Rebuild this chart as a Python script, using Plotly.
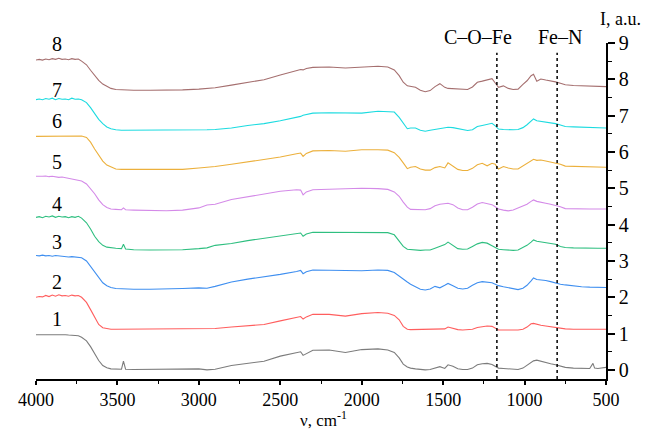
import plotly.graph_objects as go

# Wavenumber grid (cm^-1) shared by all spectra
wavenumber = [
    4000, 3980, 3960, 3940, 3920, 3900, 3880, 3860, 3840, 3820,
    3800, 3780, 3760, 3740, 3720,
    3690, 3665,
    3640, 3615, 3590, 3565, 3540, 3510, 3475, 3463, 3450, 3400,
    3300, 3200, 3100, 3000, 2950, 2900, 2800, 2700, 2600, 2500,
    2400, 2375, 2360, 2340, 2300, 2200, 2100, 2000, 1900, 1840,
    1800, 1770, 1745, 1720, 1700, 1670, 1640, 1610, 1580, 1550,
    1520, 1490, 1470, 1440, 1410, 1380, 1350, 1320, 1290, 1260,
    1230, 1200, 1180, 1160, 1130, 1100, 1070, 1040, 1010, 985,
    960, 945, 925, 900, 870, 840, 810, 780, 750, 700,
    650, 600, 580, 570, 550, 500,
]

# Offset spectra, intensity in a.u.
spec_1 = [
    0.97, 0.97, 0.98, 0.97, 0.98, 0.98, 0.99, 0.98, 0.98, 0.97,
    0.96, 0.96, 0.96, 0.94, 0.90,
    0.80, 0.64,
    0.45, 0.26, 0.12, 0.06, 0.03, 0.02, 0.02, 0.24, 0.02, 0.01,
    0.01, 0.01, 0.02, 0.03, 0.00, 0.02, 0.12, 0.17, 0.24, 0.38,
    0.48, 0.50, 0.40, 0.45, 0.54, 0.55, 0.48, 0.56, 0.58, 0.55,
    0.48, 0.33, 0.16, 0.08, 0.05, 0.03, 0.01, 0.00, 0.01, 0.05,
    0.09, 0.04, 0.14, 0.10, 0.03, 0.01, 0.01, 0.05, 0.14, 0.17,
    0.18, 0.15, 0.09, 0.05, 0.04, 0.03, 0.02, 0.01, 0.05, 0.12,
    0.20, 0.25, 0.27, 0.24, 0.19, 0.17, 0.14, 0.11, 0.07, 0.05,
    0.04, 0.04, 0.18, 0.05, 0.04, 0.07,
]
spec_2 = [
    2.00, 2.02, 2.01, 2.05, 2.02, 2.06, 2.03, 2.07, 2.04, 2.05,
    2.03, 2.06, 2.04, 2.05, 2.00,
    1.86, 1.66,
    1.44, 1.25, 1.16, 1.13, 1.12, 1.12, 1.12, 1.12, 1.12, 1.12,
    1.12, 1.12, 1.12, 1.13, 1.13, 1.14, 1.18, 1.22, 1.25, 1.35,
    1.45, 1.47, 1.40, 1.46, 1.53, 1.53, 1.48, 1.55, 1.58, 1.56,
    1.50, 1.38, 1.20, 1.12, 1.11, 1.11, 1.11, 1.12, 1.11, 1.13,
    1.12, 1.13, 1.18, 1.14, 1.11, 1.10, 1.10, 1.12, 1.17, 1.19,
    1.21, 1.20, 1.14, 1.10, 1.10, 1.09, 1.10, 1.10, 1.12, 1.18,
    1.27, 1.28, 1.25, 1.23, 1.21, 1.19, 1.17, 1.16, 1.13, 1.12,
    1.12, 1.12, 1.12, 1.12, 1.12, 1.12,
]
spec_3 = [
    3.15, 3.14, 3.16, 3.14, 3.15, 3.13, 3.15, 3.14, 3.12, 3.13,
    3.11, 3.12, 3.11, 3.12, 3.09,
    3.00, 2.85,
    2.68, 2.52, 2.40, 2.32, 2.27, 2.24, 2.23, 2.23, 2.22, 2.22,
    2.22, 2.22, 2.24, 2.26, 2.25, 2.30, 2.42, 2.50, 2.56, 2.63,
    2.71, 2.74, 2.65, 2.70, 2.75, 2.74, 2.72, 2.73, 2.75, 2.74,
    2.68, 2.58, 2.48, 2.42, 2.36, 2.28, 2.22, 2.20, 2.23, 2.30,
    2.26, 2.33, 2.38, 2.32, 2.25, 2.23, 2.25, 2.33, 2.40, 2.43,
    2.42, 2.40, 2.36, 2.32, 2.29, 2.26, 2.23, 2.21, 2.25, 2.33,
    2.45, 2.53, 2.49, 2.48, 2.46, 2.43, 2.39, 2.36, 2.34, 2.31,
    2.29, 2.28, 2.28, 2.27, 2.27, 2.27,
]
spec_4 = [
    4.20, 4.22, 4.19, 4.23, 4.21, 4.24, 4.20, 4.23, 4.21, 4.22,
    4.19, 4.22, 4.20, 4.23, 4.18,
    4.05, 3.88,
    3.68, 3.53, 3.43, 3.38, 3.36, 3.35, 3.34, 3.46, 3.33, 3.31,
    3.30, 3.30, 3.31, 3.34, 3.36, 3.43, 3.48, 3.56, 3.63, 3.70,
    3.76, 3.77, 3.68, 3.74, 3.79, 3.79, 3.78, 3.78, 3.78, 3.78,
    3.72, 3.55, 3.40, 3.32, 3.31, 3.30, 3.29, 3.30, 3.30, 3.35,
    3.39, 3.45, 3.52, 3.42, 3.34, 3.32, 3.33, 3.40, 3.47, 3.51,
    3.49, 3.42, 3.36, 3.32, 3.31, 3.29, 3.29, 3.30, 3.36, 3.43,
    3.52, 3.58, 3.54, 3.52, 3.50, 3.48, 3.46, 3.40, 3.37, 3.36,
    3.35, 3.35, 3.35, 3.35, 3.35, 3.35,
]
spec_5 = [
    5.33, 5.32, 5.33, 5.34, 5.32, 5.33, 5.31, 5.30, 5.31, 5.29,
    5.28, 5.27, 5.25, 5.23, 5.20,
    5.12, 5.00,
    4.85, 4.68, 4.55, 4.47, 4.43, 4.42, 4.41, 4.46, 4.41, 4.40,
    4.39, 4.38, 4.40, 4.46, 4.54, 4.56, 4.69, 4.77, 4.85, 4.92,
    4.96, 4.95, 4.82, 4.90, 4.96, 4.98, 5.00, 5.00, 4.99, 4.97,
    4.90, 4.78, 4.62, 4.48, 4.42, 4.41, 4.40, 4.41, 4.44, 4.52,
    4.56, 4.58, 4.59, 4.55, 4.46, 4.41, 4.41, 4.48, 4.57, 4.61,
    4.58, 4.55, 4.49, 4.43, 4.40, 4.38, 4.40, 4.45, 4.50, 4.56,
    4.64, 4.68, 4.64, 4.61, 4.59, 4.56, 4.53, 4.49, 4.44, 4.43,
    4.43, 4.43, 4.43, 4.43, 4.43, 4.43,
]
spec_6 = [
    6.43, 6.43, 6.44, 6.44, 6.43, 6.44, 6.45, 6.44, 6.44, 6.44,
    6.45, 6.44, 6.44, 6.44, 6.44,
    6.40, 6.27,
    6.08, 5.90, 5.75, 5.64, 5.58, 5.53, 5.52, 5.52, 5.51, 5.51,
    5.51, 5.51, 5.52, 5.56, 5.57, 5.60, 5.66, 5.72, 5.78, 5.86,
    5.95, 5.97, 5.88, 5.96, 6.03, 6.04, 6.02, 6.06, 6.06, 6.05,
    5.98, 5.85, 5.70, 5.54, 5.58, 5.60, 5.53, 5.50, 5.50, 5.57,
    5.60, 5.56, 5.70, 5.62, 5.52, 5.49, 5.49, 5.55, 5.65, 5.69,
    5.62, 5.69, 5.66, 5.53, 5.60, 5.56, 5.53, 5.53, 5.62, 5.68,
    5.75, 5.80, 5.77, 5.78, 5.75, 5.72, 5.70, 5.66, 5.61, 5.60,
    5.59, 5.58, 5.58, 5.58, 5.58, 5.58,
]
spec_7 = [
    7.44, 7.46, 7.44, 7.47, 7.45, 7.48, 7.44, 7.47, 7.45, 7.46,
    7.44, 7.48, 7.45, 7.46, 7.44,
    7.36, 7.22,
    7.05, 6.90, 6.78, 6.69, 6.64, 6.61, 6.60, 6.60, 6.60, 6.59,
    6.59, 6.59, 6.59, 6.60, 6.61, 6.62, 6.66, 6.73, 6.78, 6.86,
    6.95, 6.98, 7.01, 7.03, 7.07, 7.08, 7.07, 7.07, 7.12, 7.12,
    7.10, 6.95, 6.78, 6.64, 6.66, 6.66, 6.60, 6.57, 6.60, 6.62,
    6.64, 6.66, 6.68, 6.67, 6.64, 6.61, 6.59, 6.61, 6.70, 6.73,
    6.76, 6.79, 6.72, 6.63, 6.62, 6.61, 6.61, 6.62, 6.67, 6.75,
    6.86, 6.91, 6.86, 6.84, 6.83, 6.81, 6.78, 6.74, 6.70, 6.69,
    6.68, 6.67, 6.67, 6.67, 6.66, 6.66,
]
spec_8 = [
    8.53, 8.55, 8.53, 8.56, 8.54, 8.57, 8.55, 8.58, 8.55, 8.56,
    8.54, 8.57, 8.55, 8.56, 8.50,
    8.40, 8.25,
    8.10, 7.97, 7.87, 7.80, 7.75, 7.72, 7.71, 7.71, 7.70, 7.70,
    7.70, 7.70, 7.71, 7.73, 7.74, 7.77, 7.84, 7.92, 7.99, 8.12,
    8.24, 8.27, 8.26, 8.30, 8.33, 8.34, 8.31, 8.33, 8.36, 8.34,
    8.26, 8.10, 7.92, 7.82, 7.80, 7.78, 7.70, 7.66, 7.69, 7.80,
    7.88, 7.78, 7.75, 7.74, 7.73, 7.74, 7.72, 7.79, 7.92, 7.95,
    7.99, 8.02, 7.90, 7.78, 7.82, 7.75, 7.72, 7.73, 7.86, 7.96,
    8.10, 8.14, 7.95, 8.01, 7.98, 7.96, 7.93, 7.89, 7.85, 7.83,
    7.82, 7.81, 7.80, 7.80, 7.80, 7.80,
]

spectra = [spec_1, spec_2, spec_3, spec_4, spec_5, spec_6, spec_7, spec_8]
names = ["1", "2", "3", "4", "5", "6", "7", "8"]
colors = ["#7c7c7c", "#ff5e5e", "#3f8ff0", "#2fbf80",
          "#d48ae8", "#ecb03c", "#1cdbe0", "#a56f6f"]

# Marked bands (cm^-1) and their labels
band_pos = [1170, 800]
band_text = ["C–O–Fe", "Fe–N"]
band_label_x = [1286, 783]

# Label placement next to each curve's start
label_x = 3871
label_y = [1.40, 2.42, 3.53, 4.57, 5.73, 6.86, 7.71, 8.98]

FONT = "Liberation Serif, Times New Roman, serif"

fig = go.Figure()
for ys, name, col in zip(spectra, names, colors):
    fig.add_trace(go.Scatter(
        x=wavenumber, y=ys, mode="lines", name=name,
        line=dict(color=col, width=1.1), showlegend=False,
    ))

for nm, ly in zip(names, label_y):
    fig.add_annotation(x=label_x, y=ly, text=nm, showarrow=False,
                       font=dict(family=FONT, size=20, color="black"),
                       xanchor="center", yanchor="middle")

for bx in band_pos:
    fig.add_shape(type="line", x0=bx, x1=bx, y0=-0.25, y1=8.73,
                  xref="x", yref="y",
                  line=dict(color="black", width=1.5, dash="dot"))

for txt, tx in zip(band_text, band_label_x):
    fig.add_annotation(x=tx, y=1.018, xref="x", yref="paper",
                       text=txt, showarrow=False,
                       font=dict(family=FONT, size=20, color="black"),
                       xanchor="center", yanchor="middle")

fig.add_annotation(xref="paper", yref="paper", x=1.025, y=1.07,
                   text="I, a.u.", showarrow=False,
                   font=dict(family=FONT, size=18, color="black"),
                   xanchor="center", yanchor="middle")
fig.add_annotation(xref="paper", yref="paper", x=0.505, y=-0.158,
                   text="ν, cm<sup>-1</sup>", showarrow=False,
                   font=dict(family=FONT, size=17, color="black"),
                   xanchor="center", yanchor="bottom")

fig.update_layout(
    width=649, height=432,
    margin=dict(l=36, r=43, t=43, b=53),
    paper_bgcolor="white", plot_bgcolor="white",
    font=dict(family=FONT, size=20, color="black"),
    xaxis=dict(
        range=[4000, 500], dtick=500, tick0=500,
        showline=True, linecolor="black", linewidth=1.5,
        ticks="outside", ticklen=4, tickwidth=1.5, tickcolor="black",
        minor=dict(dtick=250, ticks="outside", ticklen=3,
                   tickwidth=1.2, tickcolor="black"),
        showgrid=False, zeroline=False,
        tickfont=dict(family=FONT, size=18),
    ),
    yaxis=dict(
        range=[-0.25, 9], dtick=1, tick0=0, side="right",
        showline=True, linecolor="black", linewidth=1.5,
        ticks="outside", ticklen=7, tickwidth=1.5, tickcolor="black",
        minor=dict(dtick=0.5, ticks="outside", ticklen=4,
                   tickwidth=1.2, tickcolor="black"),
        showgrid=False, zeroline=False,
        tickfont=dict(family=FONT, size=20),
    ),
)

fig.write_html("out.html")
